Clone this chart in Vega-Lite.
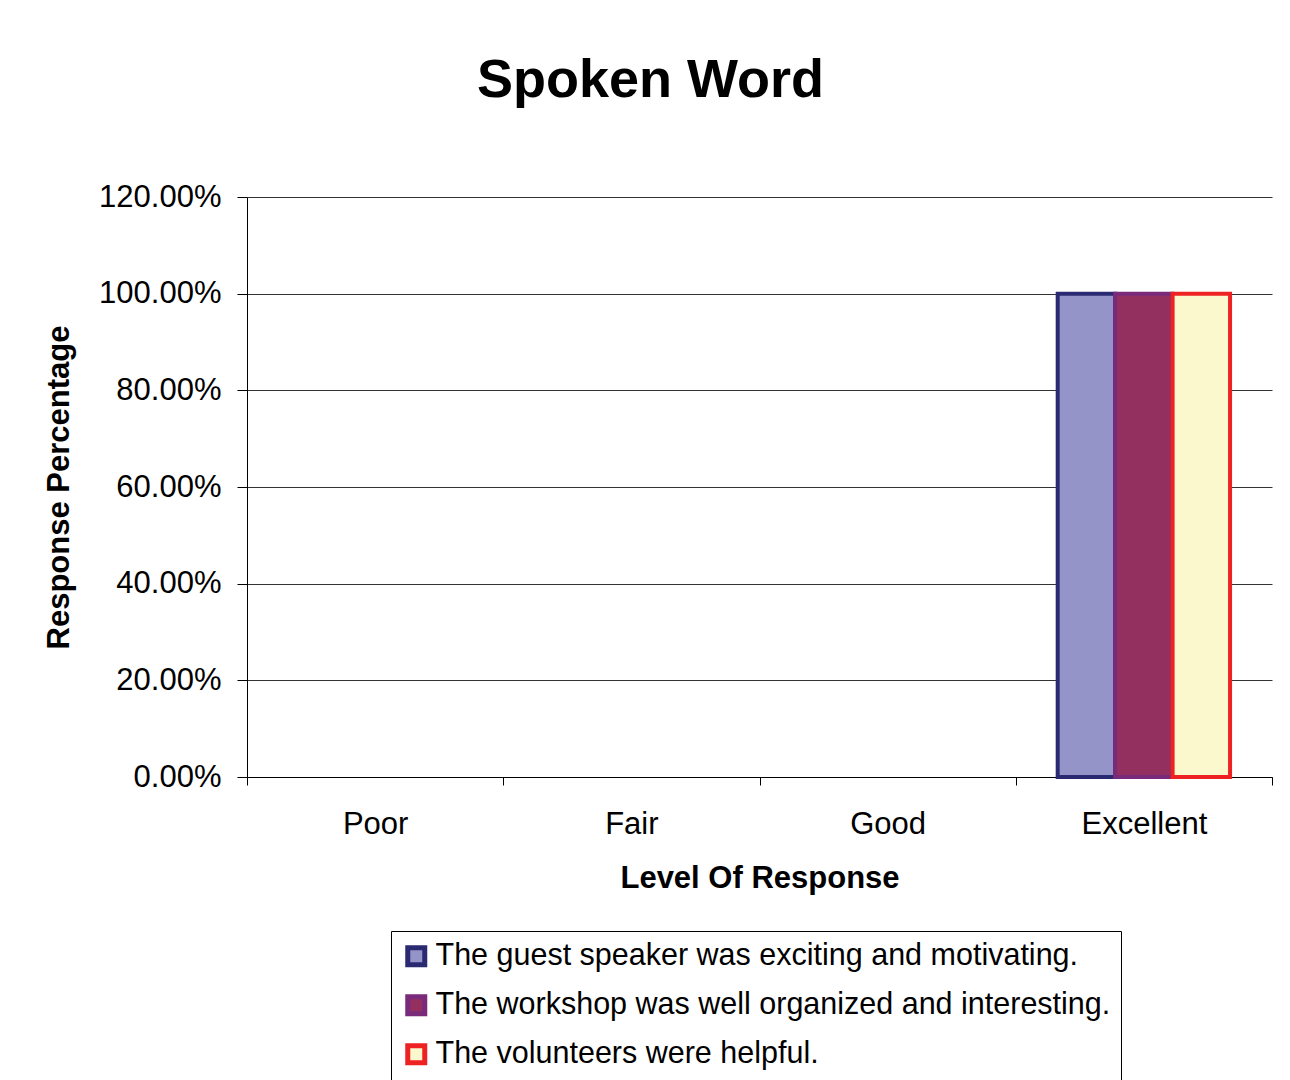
{
  "$schema": "https://vega.github.io/schema/vega-lite/v6.json",
  "autosize": {"type": "none"},
  "width": 1025,
  "height": 580,
  "padding": {"left": 247, "top": 197, "right": 18, "bottom": 303},
  "background": "white",
  "title": {
    "text": "Spoken Word",
    "font": "Liberation Sans",
    "fontSize": 54,
    "fontWeight": "bold",
    "color": "black",
    "anchor": "middle",
    "baseline": "alphabetic",
    "dx": -109,
    "offset": 30
  },
  "data": {
    "values": [
      {"level": "Poor", "series": "The guest speaker was exciting and motivating.", "value": 0},
      {"level": "Poor", "series": "The workshop was well organized and interesting.", "value": 0},
      {"level": "Poor", "series": "The volunteers were helpful.", "value": 0},
      {"level": "Fair", "series": "The guest speaker was exciting and motivating.", "value": 0},
      {"level": "Fair", "series": "The workshop was well organized and interesting.", "value": 0},
      {"level": "Fair", "series": "The volunteers were helpful.", "value": 0},
      {"level": "Good", "series": "The guest speaker was exciting and motivating.", "value": 0},
      {"level": "Good", "series": "The workshop was well organized and interesting.", "value": 0},
      {"level": "Good", "series": "The volunteers were helpful.", "value": 0},
      {"level": "Excellent", "series": "The guest speaker was exciting and motivating.", "value": 1},
      {"level": "Excellent", "series": "The workshop was well organized and interesting.", "value": 1},
      {"level": "Excellent", "series": "The volunteers were helpful.", "value": 1}
    ]
  },
  "mark": {"type": "bar", "strokeJoin": "miter"},
  "encoding": {
    "x": {
      "field": "level",
      "type": "nominal",
      "sort": ["Poor", "Fair", "Good", "Excellent"],
      "scale": {"paddingInner": 0, "paddingOuter": 0},
      "axis": {
        "title": "Level Of Response",
        "labelAngle": 0,
        "tickBand": "extent",
        "tickSize": 8,
        "labelPadding": 24,
        "titlePadding": 24,
        "grid": false
      }
    },
    "xOffset": {
      "field": "series",
      "type": "nominal",
      "sort": [
        "The guest speaker was exciting and motivating.",
        "The workshop was well organized and interesting.",
        "The volunteers were helpful."
      ],
      "scale": {"paddingInner": 0, "paddingOuter": 0.73}
    },
    "y": {
      "field": "value",
      "type": "quantitative",
      "scale": {"domain": [0, 1.2], "nice": false},
      "axis": {
        "title": "Response Percentage",
        "format": ".2%",
        "values": [0, 0.2, 0.4, 0.6, 0.8, 1.0, 1.2],
        "tickSize": 10,
        "labelPadding": 16,
        "titlePadding": 23,
        "grid": true
      }
    },
    "fill": {
      "field": "series",
      "type": "nominal",
      "scale": {
        "domain": [
          "The guest speaker was exciting and motivating.",
          "The workshop was well organized and interesting.",
          "The volunteers were helpful."
        ],
        "range": ["#9494C8", "#943060", "#FAF8CC"]
      },
      "legend": {
        "title": null,
        "orient": "none",
        "legendX": 144,
        "legendY": 734,
        "direction": "vertical",
        "symbolType": "square",
        "symbolSize": 289,
        "symbolStrokeWidth": 5,
        "labelFontSize": 30.5,
        "labelFont": "Liberation Sans",
        "labelColor": "black",
        "labelOffset": 4,
        "labelLimit": 1000,
        "rowPadding": 11,
        "padding": 10,
        "strokeColor": "black",
        "fillColor": "white",
        "cornerRadius": 0
      }
    },
    "stroke": {
      "field": "series",
      "type": "nominal",
      "scale": {
        "domain": [
          "The guest speaker was exciting and motivating.",
          "The workshop was well organized and interesting.",
          "The volunteers were helpful."
        ],
        "range": ["#2A2A72", "#7A2A7A", "#EE2222"]
      }
    },
    "strokeWidth": {
      "condition": {"test": "datum.value == 0", "value": 0},
      "value": 4
    }
  },
  "config": {
    "view": {"stroke": null},
    "font": "Liberation Sans",
    "axis": {
      "labelFont": "Liberation Sans",
      "labelFontSize": 31,
      "labelColor": "black",
      "titleFont": "Liberation Sans",
      "titleFontSize": 31,
      "titleFontWeight": "bold",
      "titleColor": "black",
      "domainColor": "black",
      "domainWidth": 1,
      "tickColor": "black",
      "tickWidth": 1,
      "gridColor": "#333333",
      "gridWidth": 1,
      "gridOpacity": 1
    }
  }
}
